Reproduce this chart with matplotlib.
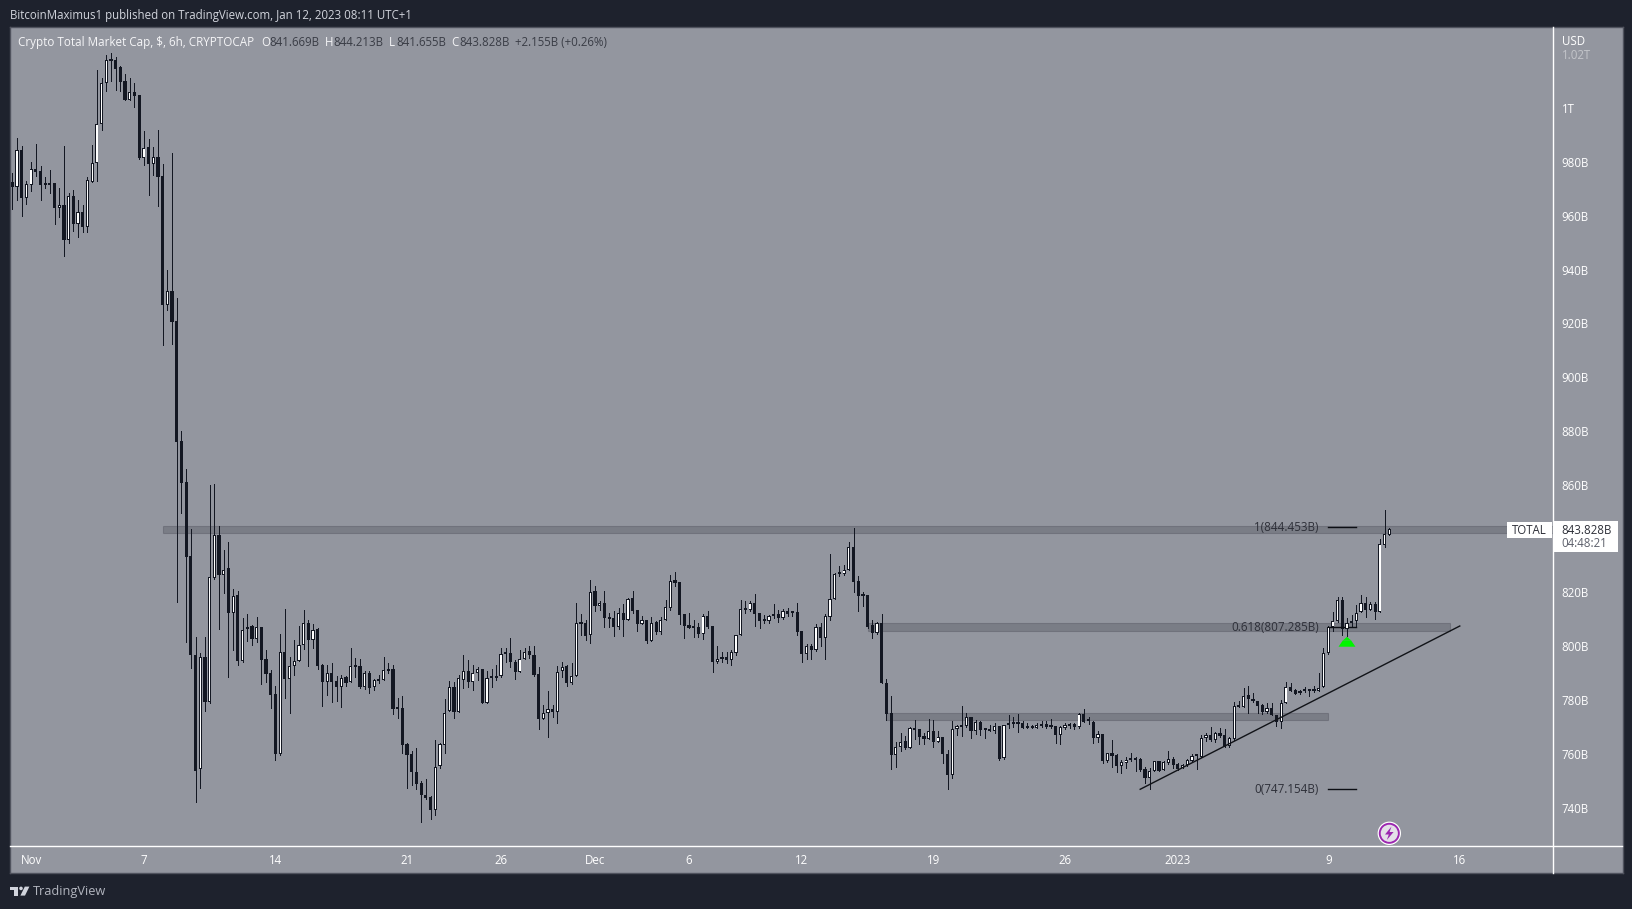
#!/usr/bin/env python3
import matplotlib

matplotlib.use("Agg")

import matplotlib.pyplot as plt
import numpy as np
from matplotlib.collections import LineCollection
from matplotlib.lines import Line2D
from matplotlib.patches import Ellipse, Polygon, Rectangle
from matplotlib.transforms import ScaledTranslation

W, H = 1633, 909

# 6h candles in billions of USD, first candle is Oct 31 00:00
opens = [
    972.8, 971.0, 984.5, 966.9, 971.8, 977.5, 976.8, 972.3, 972.3, 972.3,
    963.2, 964.1, 951.2, 967.4, 957.3, 961.5, 956.1, 972.9, 979.7, 994.2,
    1009.4, 1018.0, 1018.0, 1015.5, 1010.3, 1003.3, 1006.1, 1005.1, 981.8, 985.8,
    979.4, 981.9, 975.0, 927.0, 932.2, 921.0, 876.4, 861.1, 833.6, 797.1,
    754.4, 796.0, 779.5, 825.6, 841.4, 826.8, 829.2, 812.6, 819.1, 794.8,
    806.7, 807.7, 803.0, 807.3, 795.3, 790.1, 782.3, 760.2, 797.9, 788.1,
    792.9, 794.8, 800.5, 808.7, 802.5, 806.6, 793.2, 787.0, 790.1, 787.1,
    785.1, 788.6, 786.7, 793.0, 792.7, 785.0, 790.1, 784.9, 787.8, 787.5,
    791.6, 791.7, 777.1, 777.1, 763.7, 760.0, 753.6, 749.2, 745.0, 744.1,
    739.4, 755.8, 763.6, 776.0, 785.2, 775.8, 787.7, 790.8, 787.0, 790.1,
    791.7, 779.2, 788.6, 789.0, 789.0, 798.0, 797.6, 794.5, 790.7, 795.6,
    798.3, 797.1, 789.7, 773.2, 775.5, 777.0, 775.9, 790.8, 792.8, 786.6,
    789.3, 808.8, 808.8, 804.4, 820.7, 815.1, 816.2, 811.0, 810.6, 807.3,
    812.4, 810.0, 818.0, 813.5, 808.4, 810.1, 802.2, 809.1, 805.4, 810.1,
    814.5, 824.8, 824.0, 812.0, 807.9, 807.3, 807.3, 804.7, 811.4, 807.7,
    794.3, 796.0, 796.0, 795.0, 797.7, 804.2, 814.5, 813.6, 816.2, 812.5,
    809.8, 809.6, 812.0, 812.0, 810.6, 813.4, 812.9, 812.9, 805.8, 797.2,
    800.2, 798.7, 807.3, 803.1, 811.1, 817.8, 827.4, 827.0, 828.7, 836.9,
    824.3, 819.2, 819.2, 807.9, 805.2, 808.7, 786.5, 775.2, 759.7, 762.6,
    764.8, 762.4, 769.7, 769.4, 766.8, 765.8, 768.6, 764.7, 766.3, 760.0,
    752.3, 769.3, 770.7, 770.7, 773.7, 768.8, 772.0, 769.3, 769.3, 768.7,
    770.7, 758.8, 770.8, 772.0, 772.0, 771.6, 770.0, 770.0, 769.9, 771.1,
    771.3, 770.5, 770.5, 767.1, 769.8, 771.1, 771.3, 770.0, 775.0, 772.5,
    772.0, 766.2, 767.6, 757.5, 760.4, 759.7, 755.8, 756.9, 758.3, 758.4,
    758.4, 754.7, 751.2, 753.9, 757.4, 754.2, 756.8, 758.3, 756.4, 755.0,
    756.0, 757.6, 759.2, 759.1, 766.2, 767.3, 765.3, 767.9, 767.1, 763.1,
    765.6, 777.7, 777.7, 781.9, 780.4, 779.9, 778.5, 775.9, 777.1, 774.7,
    772.1, 779.0, 784.9, 783.9, 782.7, 784.2, 783.9, 783.9, 783.7, 784.9,
    797.6, 807.2, 809.5, 817.3, 806.5, 809.0, 809.7, 812.8, 816.2, 813.7,
    815.9, 812.9, 838.0, 841.669,
]
highs = [
    976.0, 989.0, 986.0, 973.1, 980.2, 986.9, 978.6, 974.6, 977.2, 972.3,
    970.4, 986.1, 968.5, 969.8, 966.1, 964.2, 974.6, 986.5, 1014.4, 1011.5,
    1020.0, 1020.9, 1019.3, 1015.9, 1012.9, 1011.3, 1009.7, 1005.1, 991.7, 988.6,
    985.9, 992.1, 979.4, 940.0, 983.7, 929.8, 880.1, 866.0, 843.7, 803.6,
    797.5, 803.6, 860.1, 860.5, 844.9, 835.9, 838.8, 821.3, 820.7, 810.5,
    812.1, 808.0, 810.9, 807.3, 798.8, 791.3, 785.4, 804.7, 814.2, 796.0,
    802.5, 807.7, 813.6, 809.9, 808.4, 806.8, 793.5, 793.2, 793.8, 789.1,
    789.6, 789.1, 799.5, 795.8, 795.3, 791.1, 790.8, 788.1, 789.5, 796.1,
    793.8, 793.1, 780.8, 781.6, 764.1, 761.2, 762.2, 750.0, 751.0, 744.5,
    765.3, 764.1, 780.4, 787.1, 786.9, 789.5, 796.9, 795.0, 793.2, 792.5,
    791.9, 791.1, 791.9, 793.2, 799.4, 799.5, 803.1, 795.0, 798.8, 799.7,
    800.2, 800.2, 792.6, 778.3, 783.5, 778.5, 792.8, 794.5, 793.2, 793.8,
    816.3, 812.1, 810.1, 824.8, 822.5, 817.0, 820.7, 812.4, 813.2, 814.5,
    815.8, 818.1, 820.7, 813.5, 811.3, 810.1, 810.9, 809.6, 810.9, 817.3,
    826.6, 827.7, 824.0, 812.0, 812.6, 810.1, 808.9, 812.1, 813.2, 807.7,
    800.2, 797.9, 798.0, 798.7, 804.2, 817.3, 817.0, 817.1, 819.6, 812.5,
    811.7, 811.7, 815.8, 813.5, 814.1, 814.4, 813.4, 816.2, 805.8, 801.0,
    801.0, 808.4, 808.9, 812.1, 834.4, 827.5, 830.0, 830.2, 838.9, 844.3,
    826.2, 820.4, 819.4, 810.1, 809.1, 812.0, 788.0, 781.6, 764.4, 767.8,
    766.8, 770.2, 772.7, 769.4, 767.8, 773.0, 772.7, 768.8, 766.3, 761.6,
    772.4, 770.9, 778.0, 775.2, 773.7, 772.6, 772.4, 769.3, 770.9, 771.5,
    770.7, 770.8, 774.6, 773.7, 775.0, 772.4, 771.5, 770.9, 771.5, 772.4,
    772.3, 773.0, 770.5, 770.5, 771.8, 771.5, 771.8, 775.5, 776.8, 773.7,
    772.4, 768.5, 767.6, 760.4, 765.3, 760.1, 757.9, 758.9, 760.4, 759.1,
    758.6, 755.2, 754.8, 757.6, 757.4, 757.4, 761.2, 759.1, 756.9, 756.4,
    758.1, 760.1, 760.1, 767.2, 767.8, 770.2, 768.4, 769.7, 769.3, 766.6,
    779.6, 780.0, 784.5, 785.4, 782.7, 779.9, 778.7, 779.2, 779.0, 774.7,
    780.2, 786.7, 786.4, 784.2, 783.9, 784.9, 784.2, 785.4, 790.1, 799.4,
    807.6, 813.0, 818.6, 818.6, 810.6, 811.8, 815.4, 819.1, 818.4, 816.8,
    816.8, 839.9, 850.8, 844.213,
]
lows = [
    962.8, 966.1, 960.1, 964.6, 969.5, 975.0, 966.1, 970.5, 968.7, 957.1,
    959.7, 945.4, 950.1, 954.5, 952.3, 954.2, 954.2, 972.9, 973.1, 992.1,
    1006.7, 1010.3, 1006.9, 1006.7, 1003.2, 1003.2, 1000.7, 981.2, 979.1, 967.9,
    975.3, 964.0, 912.1, 925.1, 912.7, 816.7, 849.8, 801.8, 792.2, 742.4,
    747.6, 776.2, 779.2, 825.0, 806.7, 820.1, 788.8, 798.8, 793.3, 794.3,
    802.2, 800.6, 801.8, 786.1, 786.9, 777.3, 757.9, 759.8, 780.9, 775.4,
    789.5, 794.8, 799.2, 792.8, 799.6, 791.8, 777.9, 782.0, 779.5, 779.9,
    777.7, 785.4, 786.7, 788.8, 784.6, 784.4, 782.9, 783.9, 786.6, 787.5,
    790.3, 775.0, 773.6, 760.6, 747.6, 748.7, 747.0, 735.0, 743.5, 735.8,
    737.5, 755.0, 760.6, 776.0, 773.6, 775.8, 784.8, 785.1, 783.9, 787.6,
    779.2, 779.2, 785.1, 787.8, 788.7, 794.3, 792.6, 788.0, 790.7, 795.3,
    795.8, 789.1, 769.5, 773.2, 766.5, 774.0, 771.7, 788.8, 785.5, 786.1,
    789.3, 804.3, 802.5, 801.5, 813.4, 813.6, 807.4, 807.4, 803.9, 806.7,
    803.9, 810.0, 812.4, 805.9, 808.4, 801.2, 802.2, 804.7, 804.7, 810.1,
    813.6, 822.5, 808.4, 803.3, 807.0, 803.7, 803.7, 803.0, 806.8, 790.6,
    793.8, 794.4, 793.8, 793.2, 796.9, 804.2, 812.6, 813.4, 807.7, 806.9,
    809.0, 808.8, 810.8, 809.3, 810.3, 811.6, 811.4, 804.3, 794.3, 795.5,
    795.5, 798.5, 800.2, 795.5, 810.0, 817.8, 826.2, 826.7, 828.7, 820.3,
    813.2, 815.1, 806.9, 803.3, 804.9, 786.6, 772.7, 754.6, 755.4, 761.3,
    761.9, 762.4, 765.8, 763.9, 763.9, 765.8, 762.7, 764.7, 756.6, 747.1,
    751.3, 767.2, 766.8, 770.3, 766.2, 767.6, 767.1, 766.2, 768.8, 768.0,
    758.0, 758.4, 769.7, 770.3, 768.4, 769.9, 769.9, 769.9, 769.9, 770.3,
    769.8, 769.8, 764.1, 763.8, 769.5, 769.9, 769.3, 769.8, 772.1, 771.3,
    764.1, 764.7, 756.9, 757.1, 755.4, 753.3, 752.9, 755.0, 757.5, 753.8,
    753.8, 749.2, 747.1, 753.9, 753.9, 754.2, 756.3, 754.8, 754.2, 754.8,
    755.7, 757.1, 754.7, 758.9, 765.0, 765.0, 764.6, 766.3, 762.6, 762.8,
    765.3, 777.7, 777.7, 775.2, 779.6, 775.5, 775.0, 775.2, 774.6, 770.5,
    769.7, 779.0, 783.7, 782.3, 782.3, 783.2, 781.5, 783.2, 783.7, 784.9,
    797.3, 806.0, 809.2, 804.4, 803.8, 807.5, 807.5, 812.8, 811.2, 813.7,
    810.2, 812.9, 837.2, 841.655,
]
closes = [
    971.0, 984.5, 966.9, 971.9, 977.5, 976.5, 971.8, 971.8, 971.8, 963.2,
    964.1, 951.2, 967.4, 957.3, 961.5, 956.1, 973.4, 979.7, 994.2, 1009.4,
    1018.0, 1017.9, 1014.7, 1010.0, 1003.2, 1006.1, 1004.7, 981.8, 985.6, 979.4,
    981.9, 974.7, 927.0, 932.2, 920.7, 876.2, 860.9, 833.4, 797.0, 753.9,
    796.0, 779.5, 825.8, 841.4, 826.8, 828.6, 812.6, 819.0, 794.8, 806.4,
    807.4, 803.0, 807.2, 795.1, 790.0, 782.1, 760.2, 797.9, 788.1, 792.9,
    794.8, 800.5, 808.7, 802.5, 806.4, 792.8, 787.0, 790.1, 787.0, 785.1,
    788.5, 786.6, 792.9, 792.6, 785.0, 790.1, 784.7, 787.7, 787.3, 791.2,
    791.1, 777.0, 776.8, 763.6, 759.8, 753.5, 748.9, 745.0, 743.7, 739.4,
    755.4, 763.7, 775.5, 785.1, 775.8, 788.2, 790.8, 787.0, 790.1, 791.6,
    779.2, 788.5, 788.3, 788.3, 797.4, 797.4, 794.4, 790.7, 795.5, 798.1,
    797.0, 789.5, 773.0, 775.2, 777.0, 775.8, 790.7, 792.5, 786.6, 789.2,
    808.7, 808.5, 804.0, 820.5, 815.1, 816.1, 810.8, 810.4, 807.4, 812.4,
    809.9, 817.6, 813.4, 808.4, 810.1, 802.1, 809.0, 805.4, 810.1, 814.6,
    824.6, 823.8, 811.9, 807.7, 807.0, 807.0, 804.7, 811.3, 807.3, 794.3,
    795.6, 795.4, 795.0, 797.9, 804.2, 814.2, 813.6, 816.1, 812.1, 809.6,
    809.5, 811.5, 811.3, 810.5, 813.1, 812.1, 812.5, 805.4, 797.2, 800.1,
    798.7, 807.2, 803.2, 811.3, 817.8, 827.1, 827.0, 828.7, 836.9, 824.1,
    818.9, 818.9, 807.4, 805.2, 808.8, 786.6, 775.1, 759.7, 762.6, 764.7,
    762.4, 769.6, 769.0, 766.4, 765.7, 768.5, 764.7, 766.3, 760.0, 752.3,
    769.3, 770.4, 770.3, 773.7, 768.8, 772.0, 769.0, 769.2, 768.8, 770.5,
    758.4, 770.8, 771.5, 771.4, 771.4, 769.9, 769.9, 769.9, 771.0, 770.6,
    770.2, 770.3, 767.1, 770.3, 770.8, 770.4, 770.3, 775.0, 772.1, 772.3,
    766.2, 767.4, 757.5, 760.4, 759.5, 755.7, 757.0, 757.9, 757.8, 757.8,
    754.0, 751.2, 753.9, 757.4, 753.9, 757.1, 758.1, 755.9, 754.7, 756.2,
    757.9, 759.2, 759.6, 766.2, 767.1, 765.3, 767.8, 766.9, 762.8, 766.0,
    777.8, 778.0, 781.8, 780.4, 779.8, 778.1, 775.7, 777.2, 774.6, 772.1,
    779.0, 784.9, 783.7, 782.6, 783.4, 783.6, 783.4, 783.4, 784.8, 797.6,
    807.4, 809.5, 817.3, 806.5, 809.0, 809.7, 812.7, 816.2, 813.7, 815.8,
    812.9, 838.1, 841.8, 843.828,
]

price_ticks = [740, 760, 780, 800, 820, 860, 880, 900, 920, 940, 960, 980, 1000, 1020]
price_labels = ["740B", "760B", "780B", "800B", "820B", "860B", "880B", "900B", "920B",
                "940B", "960B", "980B", "1T", "1.02T"]
date_ticks = [4, 28, 56, 84, 104, 124, 144, 168, 196, 224, 248, 280, 308]
date_labels = ["Nov", "7", "14", "21", "26", "Dec", "6", "12", "19", "26", "2023", "9", "16"]

# drawn zones: first bar, last bar, lower price, upper price
zone_left = [32, 182, 186]
zone_right = [328, 306, 280]
zone_low = [842.4, 806.0, 772.8]
zone_high = [844.8, 808.7, 775.2]

fib_levels = [844.453, 807.285, 747.154]
fib_labels = ["1(844.453B)", "0.618(807.285B)", "0(747.154B)"]
trend_bars = [240, 308]
trend_prices = [747.0, 807.7]

PANEL = "#93969f"
DARK = "#1e222d"
BORDER = "#50535e"
CANDLE = "#131722"
LABEL = "#2e3039"
FONT = "Open Sans"

BAR_PX = 4.7
PRICE_PX = 2.69


def px(x, y):
    return x / W, 1 - y / H


def px_rect(left, top, right, bottom):
    return [left / W, 1 - bottom / H, (right - left) / W, (bottom - top) / H]


def label(fig, x, y, text, color="white", size=8.3, ha="left", **kwargs):
    fx, fy = px(x, y)
    return fig.text(fx, fy, text, color=color, fontsize=size, ha=ha, va="center", family=FONT, **kwargs)


def add_box(fig, left, top, right, bottom, color="white"):
    x0, y0 = px(left, bottom)
    x1, y1 = px(right, top)
    fig.add_artist(Rectangle((x0, y0), x1 - x0, y1 - y0, transform=fig.transFigure, facecolor=color,
                             edgecolor="none", zorder=4))


def fig_polygon(fig, points, color, zorder=5):
    fig.add_artist(Polygon([px(x, y) for x, y in points], closed=True, transform=fig.transFigure,
                           facecolor=color, edgecolor="none", zorder=zorder))


def draw_candles(ax):
    o, h, l, c = map(np.asarray, (opens, highs, lows, closes))
    bars = np.arange(o.size)
    up = c >= o
    wicks = [[(x, lo), (x, hi)] for x, lo, hi in zip(bars, l, h)]
    ax.add_collection(LineCollection(wicks, colors=CANDLE, linewidths=0.72, antialiaseds=False, zorder=3))

    # dark slab for every candle, white core on the rising ones
    bottoms = np.minimum(o, c)
    heights = np.maximum(np.abs(c - o), 2.0 / PRICE_PX)
    ax.bar(bars, heights, bottom=bottoms, width=3.2 / BAR_PX, color=CANDLE, linewidth=0,
           antialiased=False, zorder=4)
    edge = 1.0 / PRICE_PX
    core = heights[up] - 2 * edge
    ax.bar(bars[up], core, bottom=bottoms[up] + edge, width=1.3 / BAR_PX, color="white", linewidth=0,
           antialiased=False, zorder=5)


def draw_drawings(ax):
    for left, right, low, high in zip(zone_left, zone_right, zone_low, zone_high):
        ax.add_patch(Rectangle((left, low), right - left, high - low, facecolor="#5d5f69", alpha=0.45,
                               edgecolor="#565862", linewidth=0.8, zorder=2))
    for level, text in zip(fib_levels, fib_labels):
        ax.plot([280, 286], [level, level], color="#0c0e14", linewidth=1.0, zorder=5)
        ax.text(278, level - 0.1, text, color=LABEL, fontsize=8.4, ha="right", va="center", family=FONT, zorder=6)
    ax.plot(trend_bars, trend_prices, color="#111318", linewidth=1.0, zorder=6)
    # green arrow under the 9 Jan candle
    ax.fill([282.2, 285.8, 284.9, 283.1], [800.0, 800.0, 802.3, 802.3], color="#00f500", zorder=6, linewidth=0)
    ax.fill([283.1, 284.9, 284.0], [802.3, 802.3, 803.7], color="#00f500", zorder=6, linewidth=0)


def draw_chrome(fig):
    label(fig, 10, 15, "BitcoinMaximus1 published on TradingView.com, Jan 12, 2023 08:11 UTC+1", color="#d1d4dc", size=8.3)

    label(fig, 18, 42.3, "Crypto Total Market Cap, $, 6h, CRYPTOCAP", size=8.4, color="#f5f5f7")
    for x, text in [(261, "O"), (325, "H"), (389, "L"), (451, "C")]:
        label(fig, x, 42.3, text, size=8.3, color="#f5f5f7")
    for x, text in [(269, "841.669B"), (333, "844.213B"), (396, "841.655B"), (459, "843.828B"),
                    (515, "+2.155B (+0.26%)")]:
        label(fig, x, 42.3, text, size=8.3, color="#3a3d46")

    label(fig, 1561.7, 41.8, "USD", size=8.3)

    # axis separators
    x0, y0 = px(1553.3, 27)
    x1, y1 = px(1553.3, 873)
    fig.add_artist(Line2D([x0, x1], [y0, y1], color="white", linewidth=1.0, zorder=3))
    x0, y0 = px(10, 846.3)
    x1, y1 = px(1622.5, 846.3)
    fig.add_artist(Line2D([x0, x1], [y0, y1], color="white", linewidth=1.0, zorder=3))

    # symbol and price tags
    add_box(fig, 1507, 521.7, 1552, 537.7)
    label(fig, 1529.5, 530, "TOTAL", color=LABEL, size=8.3, ha="center", zorder=6)
    add_box(fig, 1554, 521, 1617.7, 551.7)
    label(fig, 1561.7, 530, "843.828B", color=LABEL, size=8.3, zorder=6)
    label(fig, 1561.7, 543.5, "04:48:21", color="#5d606b", size=8.3, zorder=6)

    # lightning badge
    cx, cy = px(1389.3, 833.3)
    for radius, color in [(11.7, "white"), (10.5, "#9c27b0"), (8.6, "#e4e0e8")]:
        fig.add_artist(Ellipse((cx, cy), 2 * radius / W, 2 * radius / H, transform=fig.transFigure,
                               facecolor=color, edgecolor="none", zorder=6))
    fig_polygon(fig, [(1391.5, 826.5), (1385, 834.5), (1388.8, 834.5), (1386.8, 840), (1393.6, 832),
                      (1389.6, 832)], "#9c27b0", zorder=7)

    # tradingview logo
    logo = "#d1d4dc"
    fig_polygon(fig, [(10, 886.6), (18, 886.6), (18, 895.6), (14, 895.6), (14, 890.2), (10, 890.2)], logo)
    fig_polygon(fig, [(24.8, 886.6), (29.4, 886.6), (25, 895.6), (20.4, 895.6)], logo)
    cx, cy = px(21, 888.4)
    fig.add_artist(Ellipse((cx, cy), 3.6 / W, 3.6 / H, transform=fig.transFigure,
                           facecolor=logo, edgecolor="none", zorder=5))
    label(fig, 33, 892, "TradingView", color="#b2b5be", size=9.2)


def main():
    fig = plt.figure(figsize=(W / 100, H / 100), dpi=100, facecolor=DARK)

    panel = fig.add_axes(px_rect(10, 27, 1622.6, 873.2), facecolor=PANEL)
    panel.set_xticks([])
    panel.set_yticks([])
    for spine in panel.spines.values():
        spine.set_color(BORDER)
        spine.set_linewidth(1.0)

    ax = fig.add_axes(px_rect(10, 27, 1553.3, 846.3), facecolor="none")
    ax.set_xlim(-0.49, 327.9)
    ax.set_ylim(725.8, 1030.4)
    for spine in ax.spines.values():
        spine.set_visible(False)

    draw_drawings(ax)
    draw_candles(ax)

    ax.set_xticks(date_ticks)
    ax.set_xticklabels(date_labels, family=FONT, fontsize=8.3, color="white")
    ax.yaxis.tick_right()
    ax.set_yticks(price_ticks)
    ax.set_yticklabels(price_labels, family=FONT, fontsize=8.3, color="white", va="center")
    ax.tick_params(axis="x", length=0, pad=5.2)
    ax.tick_params(axis="y", length=0, pad=6.1)
    nudge = ScaledTranslation(0, -1.0 / 100, fig.dpi_scale_trans)
    for tick_label in ax.get_yticklabels():
        tick_label.set_transform(tick_label.get_transform() + nudge)
    ax.get_yticklabels()[-1].set_alpha(0.45)

    draw_chrome(fig)

    fig.savefig("out.png", dpi=100, facecolor=DARK)
    plt.close(fig)


if __name__ == "__main__":
    main()
